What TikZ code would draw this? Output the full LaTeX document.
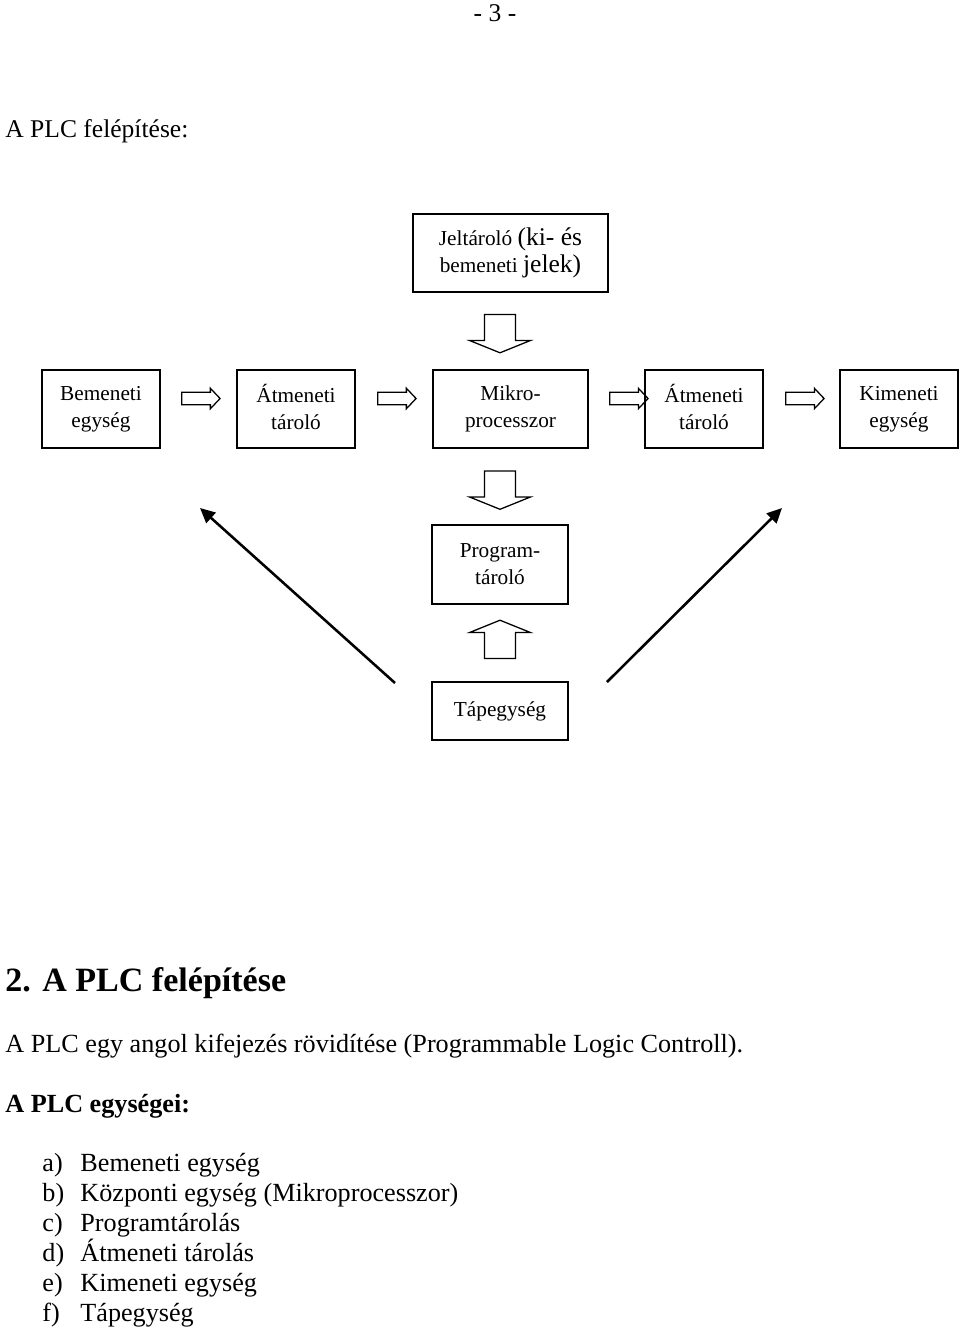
\documentclass[tikz,border=0pt]{standalone}
\usepackage{fontspec}
\setmainfont{Liberation Serif}
\usetikzlibrary{arrows.meta,shapes.arrows}

\begin{document}
\begin{tikzpicture}[x=0.47pt,y=-0.47pt,
    unit/.style={draw, line width=0.9pt, minimum width=55.5pt, minimum height=36.7pt, font=\fontsize{10}{12.6}\selectfont, align=center, inner sep=0pt},
    harr/.style={single arrow, draw, line width=0.6pt, inner xsep=0pt, inner ysep=2.6pt, minimum height=18pt, single arrow head extend=1.9pt, single arrow tip angle=93},
    varr/.style={single arrow, draw, line width=0.6pt, inner xsep=0pt, inner ysep=7pt, minimum height=18pt, single arrow head extend=7pt, single arrow tip angle=136},
    diag/.style={-{Triangle[length=7pt,width=6.5pt]}, line width=1.2pt},
    txt/.style={anchor=base west, inner sep=0pt, font=\fontsize{12.3}{14}\selectfont},
]
\useasboundingbox (0,0) rectangle (960,1330);

% Header
\node[inner sep=0pt, font=\fontsize{12}{14}\selectfont] (page) at (495,13) {- 3 -};
\node[txt, font=\fontsize{12}{14}\selectfont] (title) at (5,137) {A PLC felépítése:};

% Boxes
\node[unit, minimum width=91.7pt] (jel) at (510.5,253) {Jeltároló {\fontsize{12}{14}\selectfont(ki- és}\\bemeneti {\fontsize{12}{14}\selectfont jelek)}};
\node[unit] (be) at (101,409) {Bemeneti\\egység};
\node[unit] (atm1) at (296,409) {\smash{Á}tmeneti\\tároló};
\node[unit, minimum width=72.9pt] (mikro) at (510.5,409) {Mikro-\\processzor};
\node[unit] (atm2) at (704,409) {\smash{Á}tmeneti\\tároló};
\node[unit] (ki) at (899,409) {Kimeneti\\egység};
\node[unit, minimum width=63.9pt, minimum height=37.1pt] (prog) at (500,564.5) {Program-\\tároló};
\node[unit, minimum width=63.9pt, minimum height=27.3pt] (tap) at (500,711) {Tápegység};

% Hollow arrows
\node[harr] (h1) at (198,398.5) {};
\node[harr] (h2) at (394,398.5) {};
\node[harr] (h3) at (626,398.5) {};
\node[harr] (h4) at (802,398.5) {};
\node[varr, rotate=-90] (v1) at (500,330.5) {};
\node[varr, rotate=-90] (v2) at (500,487) {};
\node[varr, rotate=90] (v3) at (500,642.5) {};

% Diagonals
\coordinate (lfoot) at (395,683);
\coordinate (lhead) at (200,508);
\coordinate (rfoot) at (607,682);
\coordinate (rhead) at (782,508);
\draw[diag] (lfoot) -- (lhead);
\draw[diag] (rfoot) -- (rhead);

% Text below
\node[txt, font=\fontsize{16}{19}\selectfont\bfseries] (sec) at (5,991) {2. A PLC felépítése};
\node[txt] (par) at (5,1052) {A PLC egy angol kifejezés rövidítése (Programmable Logic Controll).};
\node[txt, font=\fontsize{12.3}{14}\selectfont\bfseries] (units) at (5,1112) {A PLC egységei:};
\foreach \lab/\item [count=\i] in {a/Bemeneti egység, b/Központi egység (Mikroprocesszor), c/Programtárolás, d/Átmeneti tárolás, e/Kimeneti egység, f/Tápegység} {
  \node[txt] (lab\i) at (42,1142+29.9*\i) {\lab)};
  \node[txt] (item\i) at (80,1142+29.9*\i) {\item};
}
\end{tikzpicture}
\end{document}
